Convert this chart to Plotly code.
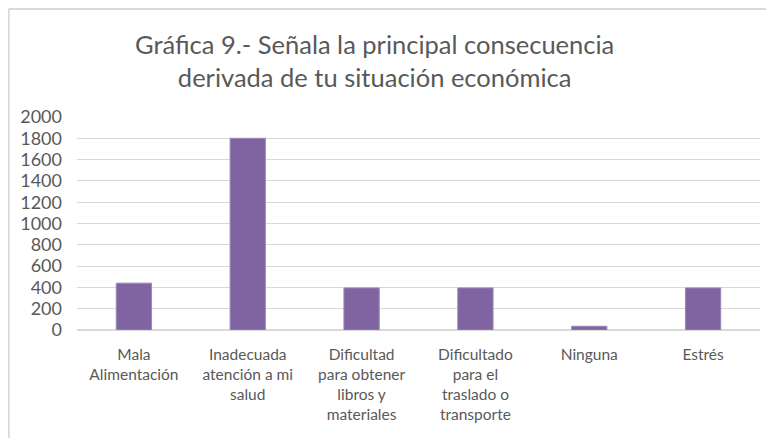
import plotly.graph_objects as go

categories = ["Mala<br>Alimentación", "Inadecuada<br>atención a mi<br>salud",
              "Dificultad<br>para obtener<br>libros y<br>materiales",
              "Dificultado<br>para el<br>traslado o<br>transporte", "Ninguna", "Estrés"]
values = [440, 1800, 395, 395, 35, 395]
y_ticks = [0, 200, 400, 600, 800, 1000, 1200, 1400, 1600, 1800, 2000]

FONT = "Lato"
fig = go.Figure(go.Bar(x=list(range(len(categories))), y=values,
                       marker=dict(color="#8064A2", line=dict(color="#9C87B8", width=1)),
                       width=0.31))
fig.update_layout(
    width=766, height=430,
    margin=dict(l=69, r=14, t=109, b=108),
    paper_bgcolor="white", plot_bgcolor="white",
    font=dict(family=FONT, color="#595959"),
    showlegend=False,
    xaxis=dict(tickmode="array", tickvals=list(range(len(categories))), ticktext=categories,
               range=[-0.5, 5.5], showgrid=False, showline=False, zeroline=False,
               tickfont=dict(family=FONT, size=15.5, color="#595959"), ticks="",
               ticklabelstandoff=13, automargin=False),
    yaxis=dict(range=[0, 2000], tickvals=y_ticks, showgrid=True, gridcolor="#D9D9D9",
               gridwidth=1, zeroline=True, zerolinecolor="#D9D9D9", showline=False,
               tickfont=dict(family=FONT, size=18, color="#595959"), ticks="",
               ticklabelstandoff=14, automargin=False),
    annotations=[dict(text="Gráfica 9.- Señala la principal consecuencia<br>derivada de tu situación económica",
                      xref="paper", yref="paper", x=0.435, y=1.263, xanchor="center",
                      yanchor="middle", showarrow=False,
                      font=dict(family=FONT, size=25.5, color="#595959"))],
    shapes=[
        dict(type="line", xref="paper", yref="paper", x0=-0.1, x1=1.1, y0=1.507, y1=1.507,
             line=dict(color="#D9D9D9", width=2)),
        dict(type="line", xref="paper", yref="paper", x0=-0.1, x1=-0.1, y0=1.507, y1=-0.6,
             line=dict(color="#D9D9D9", width=2)),
    ],
)
fig.write_html("out.html")
